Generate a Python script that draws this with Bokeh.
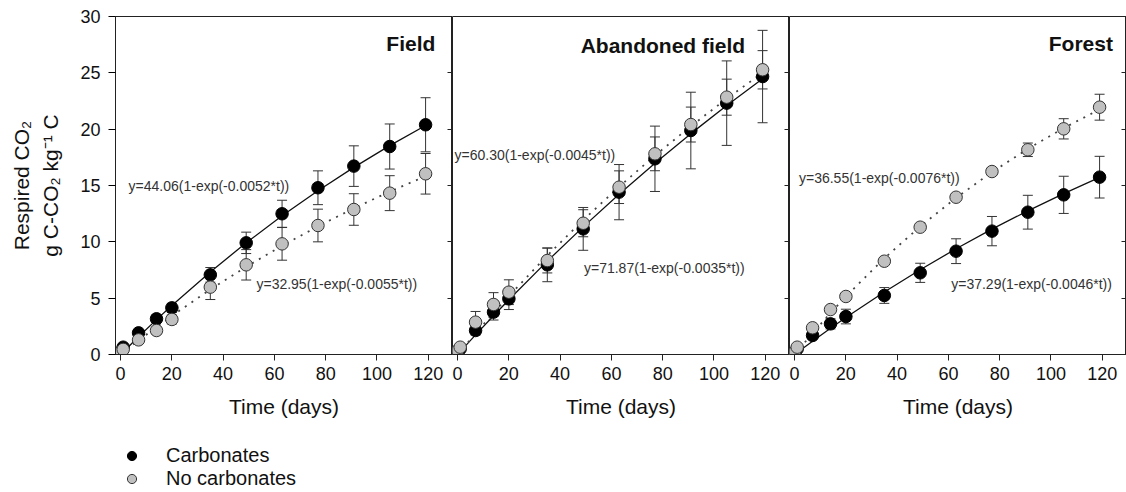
import numpy as np
from bokeh.plotting import figure
from bokeh.layouts import row, column
from bokeh.models import (ColumnDataSource, Whisker, TeeHead, LinearAxis, FixedTicker,
                          Range1d, Legend, LegendItem, Title, Label, CustomJSTickFormatter)
from bokeh.embed import file_html
from bokeh.resources import INLINE

# ---------------- data ----------------
days = [0, 1, 7, 14, 20, 35, 49, 63, 77, 91, 105, 119]
panel_names = ["Field", "Abandoned field", "Forest"]
series_names = ["Carbonates", "No carbonates"]
x_ticks = [0, 20, 40, 60, 80, 100, 120]
y_ticks = [0, 5, 10, 15, 20, 25, 30]

field_carb = [0.25, 0.65, 1.92, 3.17, 4.14, 7.07, 9.91, 12.49, 14.80, 16.72, 18.46, 20.39]
field_carb_err = [0.1, 0.1, 0.2, 0.3, 0.4, 0.65, 0.95, 1.2, 1.5, 1.8, 2.0, 2.4]
field_nocarb = [0.2, 0.45, 1.3, 2.13, 3.11, 5.98, 7.96, 9.82, 11.45, 12.87, 14.32, 16.04]
field_nocarb_err = [0.05, 0.1, 0.2, 0.3, 0.4, 1.1, 1.35, 1.45, 1.45, 1.4, 1.55, 1.8]

aband_carb = [0.2, 0.5, 2.13, 3.76, 4.94, 7.96, 11.15, 14.41, 17.37, 19.88, 22.31, 24.67]
aband_carb_err = [0.1, 0.2, 0.4, 0.7, 0.95, 1.5, 1.9, 2.45, 2.9, 3.4, 3.75, 4.1]
aband_nocarb = [0.35, 0.65, 2.87, 4.44, 5.53, 8.34, 11.65, 14.85, 17.81, 20.41, 22.84, 25.27]
aband_nocarb_err = [0.1, 0.2, 0.95, 1.05, 1.1, 1.1, 1.2, 1.45, 1.5, 1.55, 1.6, 1.7]

forest_carb = [0.1, 0.5, 1.69, 2.72, 3.37, 5.24, 7.25, 9.17, 10.95, 12.63, 14.17, 15.74]
forest_carb_err = [0.1, 0.15, 0.3, 0.45, 0.65, 0.7, 0.85, 1.1, 1.3, 1.5, 1.65, 1.85]
forest_nocarb = [0.2, 0.65, 2.37, 3.99, 5.15, 8.28, 11.3, 13.96, 16.24, 18.17, 20.03, 21.95]
forest_nocarb_err = [0.05, 0.05, 0.1, 0.15, 0.2, 0.2, 0.25, 0.3, 0.35, 0.6, 0.9, 1.15]

# fitted model y = a(1-exp(-k t)) as printed on the chart
fit_carb_a = [44.06, 71.87, 37.29]
fit_carb_k = [0.0052, 0.0035, 0.0046]
fit_nocarb_a = [32.95, 60.30, 36.55]
fit_nocarb_k = [0.0055, 0.0045, 0.0076]

carb_series = [field_carb, aband_carb, forest_carb]
carb_errs = [field_carb_err, aband_carb_err, forest_carb_err]
nocarb_series = [field_nocarb, aband_nocarb, forest_nocarb]
nocarb_errs = [field_nocarb_err, aband_nocarb_err, forest_nocarb_err]

# equation label anchor positions (data units)
carb_eq_pos = [(3.1, 15.0), (49.3, 7.7), (61.1, 6.3)]
nocarb_eq_pos = [(53.0, 6.3), (-1.2, 17.7), (1.7, 15.7)]
title_pos = [(122.8, 27.6), (112.2, 27.4), (124.2, 27.6)]

FONT = "Liberation Sans"
FRAME_W = 337
LEFT_W = 115
CARB_FILL = "#000000"
NOCARB_FILL = "#c0c0c0"


def fmt_eq(a, k):
    return "y=%.2f(1-exp(-%.4f*t))" % (a, k)


figs = []
for i in range(3):
    first = i == 0
    p = figure(width=(LEFT_W + FRAME_W) if first else FRAME_W, height=440,
               x_range=Range1d(-2, 129.5), y_range=Range1d(0, 30),
               output_backend="svg", toolbar_location=None,
               min_border_left=LEFT_W if first else 0, min_border_right=0,
               min_border_top=16, min_border_bottom=86,
               y_axis_location="left" if first else None,
               x_axis_label="Time (days)")
    p.background_fill_color = "white"
    p.border_fill_color = "white"
    p.outline_line_color = "#222222"
    p.outline_line_width = 1
    p.xgrid.visible = False
    p.ygrid.visible = False

    xa = p.xaxis[0]
    xa.ticker = FixedTicker(ticks=x_ticks)
    xa.major_tick_out = 6
    xa.major_tick_in = 0
    xa.minor_tick_out = 0
    xa.minor_tick_in = 0
    xa.axis_line_color = "#222222"
    xa.major_tick_line_color = "#222222"
    xa.major_label_text_font = FONT
    xa.major_label_text_font_size = "18px"
    xa.major_label_text_color = "#111111"
    xa.major_label_standoff = 6
    xa.axis_label_text_font = FONT
    xa.axis_label_text_font_size = "21px"
    xa.axis_label_text_font_style = "normal"
    xa.axis_label_text_color = "#111111"
    xa.axis_label_standoff = 12

    if first:
        ya = p.yaxis[0]
        ya.ticker = FixedTicker(ticks=y_ticks)
        ya.major_tick_out = 7
        ya.major_tick_in = 0
        ya.minor_tick_out = 0
        ya.minor_tick_in = 0
        ya.axis_line_color = "#222222"
        ya.major_label_text_font = FONT
        ya.major_label_text_font_size = "18px"
        ya.major_label_text_color = "#111111"
        ya.major_label_standoff = 8
        ya.axis_label = "g C-CO₂ kg⁻¹ C"
        ya.axis_label_text_font = FONT
        ya.axis_label_text_font_size = "21px"
        ya.axis_label_text_font_style = "normal"
        ya.axis_label_text_color = "#111111"
        ya.axis_label_standoff = 15
        p.add_layout(Title(text="Respired CO₂", align="center", text_font=FONT,
                           text_font_size="21px", text_font_style="normal",
                           text_color="#111111", standoff=8), "left")

    ra = LinearAxis(ticker=FixedTicker(ticks=y_ticks),
                    formatter=CustomJSTickFormatter(code="return ''"),
                    major_tick_in=5, major_tick_out=0, minor_tick_in=0, minor_tick_out=0,
                    major_label_standoff=0, axis_line_color=None,
                    major_tick_line_color="#222222")
    p.add_layout(ra, "right")

    t = np.array(days, dtype=float)
    carb_fit = fit_carb_a[i] * (1 - np.exp(-fit_carb_k[i] * t))
    nocarb_fit = fit_nocarb_a[i] * (1 - np.exp(-fit_nocarb_k[i] * t))
    p.line(t, carb_fit, line_color="#111111", line_width=1.3)
    p.line(t, nocarb_fit, line_color="#444444", line_width=1.8, line_dash="2 6")

    c = np.array(carb_series[i]); ce = np.array(carb_errs[i])
    n = np.array(nocarb_series[i]); ne = np.array(nocarb_errs[i])
    src_c = ColumnDataSource(dict(x=days, y=c, lo=c - ce, hi=c + ce))
    src_n = ColumnDataSource(dict(x=days, y=n, lo=n - ne, hi=n + ne))
    for src in (src_c, src_n):
        w = Whisker(source=src, base="x", lower="lo", upper="hi",
                    line_color="#333333", line_width=1,
                    upper_head=TeeHead(size=10, line_color="#333333", line_width=1),
                    lower_head=TeeHead(size=10, line_color="#333333", line_width=1))
        p.add_layout(w)

    p.scatter("x", "y", source=src_c, size=12.5, marker="circle",
              fill_color=CARB_FILL, line_color="#000000", line_width=1)
    p.scatter("x", "y", source=src_n, size=12.5, marker="circle",
              fill_color=NOCARB_FILL, line_color="#333333", line_width=1)

    cx, cy = carb_eq_pos[i]
    nx, ny = nocarb_eq_pos[i]
    for (lx, ly, txt) in ((cx, cy, fmt_eq(fit_carb_a[i], fit_carb_k[i])),
                          (nx, ny, fmt_eq(fit_nocarb_a[i], fit_nocarb_k[i]))):
        p.add_layout(Label(x=lx, y=ly, text=txt, text_font=FONT, text_font_size="14px",
                           text_color="#333333", text_align="left", text_baseline="middle"))

    tx, ty = title_pos[i]
    p.add_layout(Label(x=tx, y=ty, text=panel_names[i], text_font=FONT,
                       text_font_size="21px", text_font_style="bold",
                       text_color="#111111", text_align="right",
                       text_baseline="alphabetic"))
    figs.append(p)

# legend strip under the first panel; its renderers hold the Field series but
# the strip's ranges keep them out of view, so only the legend shows
lf = figure(width=LEFT_W + FRAME_W, height=52, output_backend="svg", toolbar_location=None,
            x_range=Range1d(-1000, -999), y_range=Range1d(-1000, -999),
            x_axis_location=None, y_axis_location=None, min_border=0,
            min_border_left=0, min_border_right=0, min_border_top=0, min_border_bottom=0)
lf.outline_line_color = None
lf.background_fill_color = "white"
lf.xgrid.visible = False
lf.ygrid.visible = False
leg_src_c = ColumnDataSource(dict(x=days, y=field_carb))
leg_src_n = ColumnDataSource(dict(x=days, y=field_nocarb))
lr_c = lf.scatter("x", "y", source=leg_src_c, size=12, marker="circle",
                  fill_color=CARB_FILL, line_color="#000000", line_width=1)
lr_n = lf.scatter("x", "y", source=leg_src_n, size=12, marker="circle",
                  fill_color=NOCARB_FILL, line_color="#333333", line_width=1)
leg = Legend(items=[LegendItem(label=series_names[0], renderers=[lr_c]),
                    LegendItem(label=series_names[1], renderers=[lr_n])],
             location=(120, 2), orientation="vertical",
             border_line_color=None, background_fill_alpha=0,
             label_text_font=FONT, label_text_font_size="20px", label_text_color="#111111",
             glyph_width=23, glyph_height=23, label_height=23, label_standoff=23,
             spacing=0, padding=0, margin=0)
lf.add_layout(leg)

layout = column(row(*figs), lf)
open("out.html", "w").write(file_html(layout, INLINE))
